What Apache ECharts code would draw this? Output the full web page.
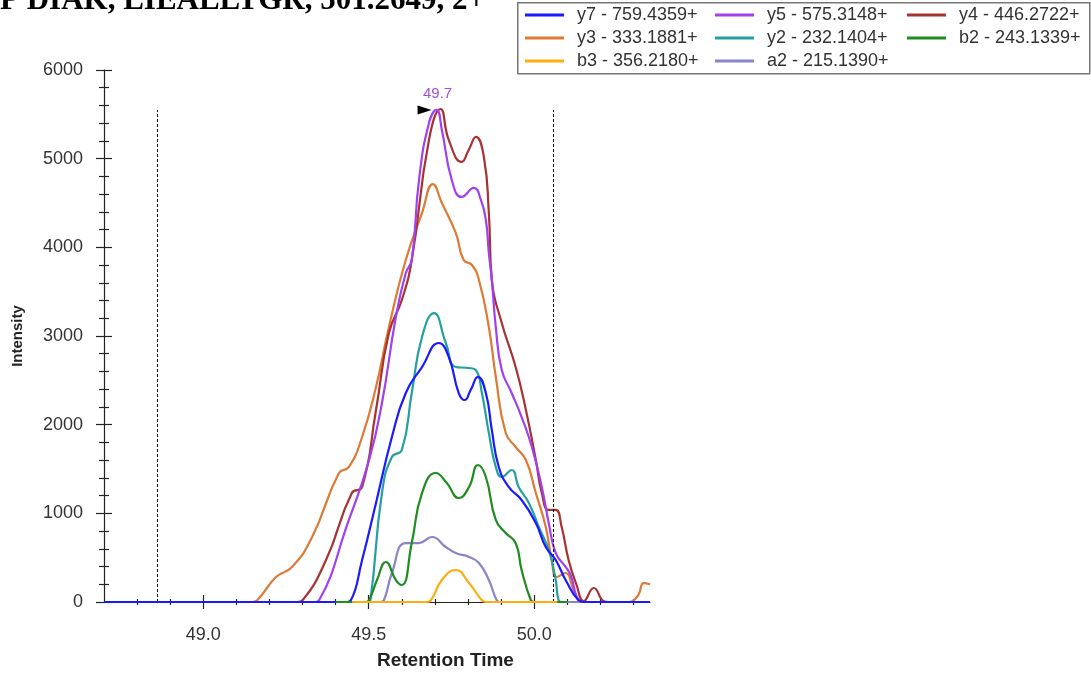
<!DOCTYPE html>
<html>
<head>
<meta charset="utf-8">
<script src="https://cdn.jsdelivr.net/npm/echarts@6/dist/echarts.min.js"></script>
<style>
html,body{margin:0;padding:0;background:#fff;}
#chart{width:1091px;height:675px;}
</style>
</head>
<body>
<div id="chart"></div>
<script>
// ---------- data (retention time [min], intensity) ----------
const titleText = 'P DIAK, LIEALLTGR, 501.2649, 2+';
const xAxisName = 'Retention Time';
const yAxisName = 'Intensity';
const rtMin = 48.7, rtMax = 50.35;
const intensityMax = 6000;
const rtMajorTicks = [49.0, 49.5, 50.0];
const rtMinorTicks = [48.8, 48.9, 49.1, 49.2, 49.3, 49.4, 49.6, 49.7, 49.8, 49.9, 50.1, 50.2, 50.3];
const intensityMajorTicks = [0, 1000, 2000, 3000, 4000, 5000, 6000];
const intensityMinorTicks = [200,400,600,800,1200,1400,1600,1800,2200,2400,2600,2800,3200,3400,3600,3800,4200,4400,4600,4800,5200,5400,5600,5800];
const boundaryTimes = [48.861, 50.057];
const boundaryTop = 5550;
const apexTime = 49.705, apexIntensity = 5550, apexLabel = '49.7';

const seriesNames = ['y7 - 759.4359+', 'y5 - 575.3148+', 'y4 - 446.2722+', 'y3 - 333.1881+', 'y2 - 232.1404+', 'b2 - 243.1339+', 'b3 - 356.2180+', 'a2 - 215.1390+'];

const y7Data = [[48.7,0],[49.43,0],[49.446,20],[49.480,474],[49.522,1117],[49.570,1861],[49.612,2357],[49.661,2650],[49.712,2921],[49.742,2763],[49.772,2357],[49.790,2278],[49.808,2391],[49.830,2538],[49.854,2357],[49.872,1940],[49.893,1523],[49.923,1297],[49.962,1150],[50.005,891],[50.035,620],[50.065,474],[50.095,248],[50.134,20],[50.15,0],[50.35,0]];
const y5Data = [[48.7,0],[49.335,0],[49.350,20],[49.440,925],[49.501,1600],[49.540,2245],[49.582,3215],[49.612,3710],[49.630,3857],[49.652,4760],[49.682,5403],[49.705,5550],[49.721,5324],[49.751,4760],[49.781,4568],[49.818,4670],[49.839,4534],[49.854,4308],[49.863,3936],[49.872,3632],[49.884,3101],[49.902,2616],[49.932,2357],[49.962,2086],[49.993,1748],[50.023,1297],[50.044,891],[50.065,553],[50.095,395],[50.110,305],[50.134,20],[50.15,0],[50.35,0]];
const y4Data = [[48.7,0],[49.285,0],[49.300,20],[49.371,474],[49.449,1229],[49.480,1297],[49.522,2166],[49.561,3034],[49.600,3406],[49.630,3857],[49.682,5210],[49.717,5560],[49.742,5210],[49.781,4963],[49.802,5098],[49.824,5245],[49.848,5019],[49.863,4387],[49.872,3632],[49.902,3147],[49.944,2650],[49.975,2166],[50.005,1601],[50.023,1229],[50.044,1038],[50.065,1038],[50.083,846],[50.104,474],[50.128,192],[50.150,10],[50.180,158],[50.210,10],[50.225,0],[50.35,0]];
const y3Data = [[48.7,0],[49.148,0],[49.163,20],[49.220,282],[49.268,395],[49.329,733],[49.410,1455],[49.440,1523],[49.480,1861],[49.522,2425],[49.561,3101],[49.612,3857],[49.661,4387],[49.694,4714],[49.721,4500],[49.763,4162],[49.787,3857],[49.812,3801],[49.833,3632],[49.863,3101],[49.884,2538],[49.914,1906],[49.944,1748],[49.975,1601],[50.005,1229],[50.035,846],[50.053,474],[50.068,282],[50.095,327],[50.119,135],[50.140,10],[50.155,0],[50.285,0],[50.297,10],[50.315,80],[50.331,214],[50.35,200]];
const y2Data = [[48.7,0],[49.495,0],[49.505,20],[49.540,1229],[49.570,1635],[49.600,1714],[49.630,2357],[49.661,2989],[49.697,3259],[49.733,2921],[49.763,2650],[49.803,2639],[49.824,2616],[49.842,2357],[49.863,1906],[49.884,1523],[49.902,1410],[49.932,1489],[49.953,1297],[49.984,1117],[50.014,846],[50.044,586],[50.065,248],[50.074,20],[50.085,0],[50.35,0]];
const b2Data = [[49.40,0],[49.49,0],[49.501,20],[49.525,248],[49.552,451],[49.582,248],[49.600,192],[49.630,665],[49.661,1229],[49.703,1455],[49.736,1342],[49.772,1173],[49.803,1297],[49.830,1545],[49.854,1410],[49.884,925],[49.914,778],[49.944,665],[49.962,361],[49.990,20],[50.0,0],[50.10,0]];
const b3Data = [[49.45,0],[49.675,0],[49.688,20],[49.721,248],[49.763,361],[49.803,214],[49.842,20],[49.855,0],[50.07,0]];
const a2Data = [[48.7,0],[49.535,0],[49.546,20],[49.570,327],[49.612,665],[49.652,665],[49.691,733],[49.733,620],[49.763,553],[49.803,508],[49.833,440],[49.863,248],[49.887,20],[49.898,0],[50.35,0]];

const seriesColors = {
  'y7 - 759.4359+': '#1a1aff',
  'y5 - 575.3148+': '#a040f0',
  'y4 - 446.2722+': '#a83232',
  'y3 - 333.1881+': '#dd7a35',
  'y2 - 232.1404+': '#25a0a0',
  'b2 - 243.1339+': '#1e8c1e',
  'b3 - 356.2180+': '#ffac10',
  'a2 - 215.1390+': '#8a84c8'
};
const seriesDataByName = {
  'y7 - 759.4359+': y7Data, 'y5 - 575.3148+': y5Data, 'y4 - 446.2722+': y4Data,
  'y3 - 333.1881+': y3Data, 'y2 - 232.1404+': y2Data, 'b2 - 243.1339+': b2Data,
  'b3 - 356.2180+': b3Data, 'a2 - 215.1390+': a2Data
};
// drawing order bottom -> top
const drawOrder = ['y3 - 333.1881+', 'y4 - 446.2722+', 'y5 - 575.3148+', 'y2 - 232.1404+', 'a2 - 215.1390+', 'y7 - 759.4359+', 'b2 - 243.1339+', 'b3 - 356.2180+'];
const legendColumns = [
  ['y7 - 759.4359+', 'y3 - 333.1881+', 'b3 - 356.2180+'],
  ['y5 - 575.3148+', 'y2 - 232.1404+', 'a2 - 215.1390+'],
  ['y4 - 446.2722+', 'b2 - 243.1339+']
];

// ---------- chart ----------
const chart = echarts.init(document.getElementById('chart'), null, {renderer: 'canvas'});
const GRID = {left: 104, right: 441, top: 70, bottom: 73};
const labelFont = 'Liberation Sans';
const textColor = '#333';

function tickAxis(values, len, offset, isX) {
  return {
    type: 'value', min: isX ? rtMin : 0, max: isX ? rtMax : intensityMax,
    position: isX ? 'bottom' : 'left', offset: offset,
    axisLine: {show: false}, splitLine: {show: false},
    axisLabel: {show: false},
    axisTick: {show: true, inside: false, length: len, customValues: values, lineStyle: {color: '#222', width: 1.2}}
  };
}

const series = drawOrder.map((name, i) => ({
  name: name, type: 'line', data: seriesDataByName[name],
  xAxisIndex: 0, yAxisIndex: 0,
  smooth: 0.5, showSymbol: false, symbol: 'none',
  clip: false, z: 2 + i,
  lineStyle: {color: seriesColors[name], width: 2.2},
  itemStyle: {color: seriesColors[name]},
  emphasis: {disabled: true}, animation: false
}));
// dashed integration boundaries
series[0].markLine = {
  silent: true, symbol: 'none', animation: false,
  label: {show: false},
  lineStyle: {color: '#111', type: [3, 2], width: 1},
  data: boundaryTimes.map(t => [{coord: [t, 0]}, {coord: [t, boundaryTop]}])
};
// apex marker on y5
const y5Series = series.find(s => s.name === 'y5 - 575.3148+');
y5Series.markPoint = {
  silent: true, animation: false,
  symbol: 'triangle', symbolSize: [9, 14], symbolRotate: -90, symbolOffset: [-12, 0],
  itemStyle: {color: '#000'},
  label: {show: true, formatter: apexLabel, position: 'top', offset: [13, 1], color: '#a050e0', fontFamily: labelFont, fontSize: 15},
  data: [{coord: [apexTime, apexIntensity]}]
};

const legends = legendColumns.map((col, ci) => ({
  orient: 'vertical', left: [525, 715, 907][ci], top: 6, padding: 0,
  data: col, icon: 'rect', itemWidth: 39, itemHeight: 3, itemGap: 5,
  selectedMode: false,
  textStyle: {fontFamily: labelFont, fontSize: 18, color: textColor, padding: [0, 0, 0, 8]}
}));

const option = {
  backgroundColor: '#fff',
  animation: false,
  color: drawOrder.map(n => seriesColors[n]),
  grid: GRID,
  legend: legends,
  xAxis: [
    {
      type: 'value', min: rtMin, max: rtMax, position: 'bottom',
      axisLine: {show: true, lineStyle: {color: '#222', width: 1.2}},
      axisTick: {show: false},
      splitLine: {show: false},
      axisLabel: {show: true, customValues: rtMajorTicks, formatter: v => v.toFixed(1), margin: 24,
        fontFamily: labelFont, fontSize: 18, color: textColor}
    },
    tickAxis(rtMajorTicks, 14, -7, true),
    tickAxis(rtMinorTicks, 6, -3, true)
  ],
  yAxis: [
    {
      type: 'value', min: 0, max: intensityMax, interval: 1000, position: 'left',
      name: yAxisName, nameLocation: 'middle', nameGap: 79, nameRotate: 90,
      nameTextStyle: {fontFamily: labelFont, fontSize: 15, fontWeight: 'bold', color: '#222'},
      axisLine: {show: true, lineStyle: {color: '#222', width: 1.2}},
      axisTick: {show: false}, splitLine: {show: false},
      axisLabel: {show: true, margin: 21, formatter: v => String(v), fontFamily: labelFont, fontSize: 18, color: textColor}
    },
    tickAxis(intensityMajorTicks, 16, -8, false),
    tickAxis(intensityMinorTicks, 10, -5, false)
  ],
  series: series,
  graphic: [
    {type: 'rect', left: 517, top: 2, shape: {width: 572, height: 71},
      style: {fill: 'rgba(0,0,0,0)', stroke: '#777', lineWidth: 1.5}, z: -1, silent: true},
    {type: 'text', left: 0, top: -15,
      style: {text: titleText, font: 'bold 31px "Liberation Serif"', fill: '#000'}, silent: true},
    {type: 'text', left: 377, top: 651,
      style: {text: xAxisName, font: 'bold 19px "Liberation Sans"', fill: '#222'}, silent: true}
  ]
};
chart.setOption(option);
</script>
</body>
</html>
